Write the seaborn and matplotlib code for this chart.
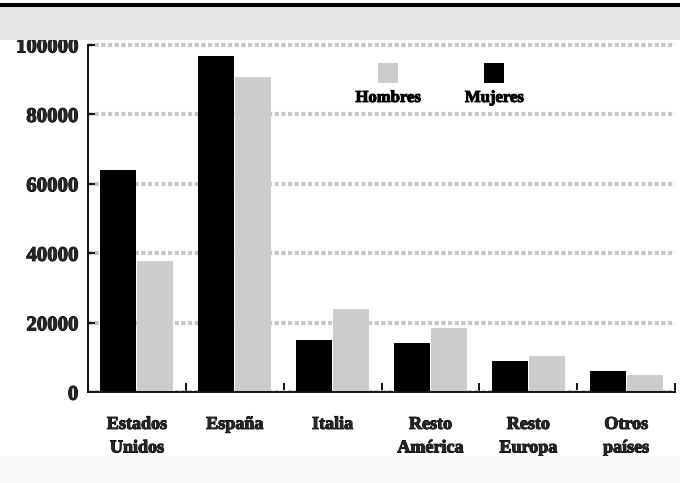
import matplotlib
matplotlib.use("Agg")
import matplotlib.pyplot as plt
import matplotlib.patheffects as pe
import seaborn as sns
import pandas as pd
from matplotlib.patches import Rectangle
from matplotlib.offsetbox import DrawingArea, TextArea, VPacker, HPacker, AnchoredOffsetbox

# ---- data ----
categories = ["Estados\nUnidos", "España", "Italia", "Resto\nAmérica", "Resto\nEuropa", "Otros\npaíses"]
mujeres = [64000, 96800, 15000, 14100, 9100, 6100]
hombres = [37900, 90700, 24100, 18500, 10500, 5100]
series_order = ["Mujeres", "Hombres"]
legend_order = ["Hombres", "Mujeres"]
yticks = [0, 20000, 40000, 60000, 80000, 100000]
colors = {"Mujeres": "#000000", "Hombres": "#cccccc"}

df = pd.DataFrame({
    "pais": categories * 2,
    "sexo": ["Mujeres"] * len(categories) + ["Hombres"] * len(categories),
    "valor": mujeres + hombres,
})

sns.set_theme(style="white")
plt.rcParams["font.family"] = ["Liberation Serif", "DejaVu Serif"]
plt.rcParams["font.weight"] = "bold"

thick = [pe.withStroke(linewidth=0.7, foreground="black")]

fig = plt.figure(figsize=(6.8, 4.83), dpi=100, facecolor="white")

# background decoration: top black rule and grey band, faint bottom strip
fig.patches.append(Rectangle((0, 1 - 6.5 / 483), 1, 3 / 483, transform=fig.transFigure,
                             facecolor="black", edgecolor="none", zorder=0))
fig.patches.append(Rectangle((0, 1 - 40 / 483), 1, 33 / 483, transform=fig.transFigure,
                             facecolor="#e6e6e6", edgecolor="none", zorder=0))
fig.patches.append(Rectangle((0, 0), 1, 27 / 483, transform=fig.transFigure,
                             facecolor="#f8f8f8", edgecolor="none", zorder=0))

ax = fig.add_axes([88 / 680, 1 - 392.3 / 483, 587 / 680, 347.3 / 483])
ax.set_facecolor("white")

sns.barplot(data=df, x="pais", y="valor", hue="sexo", hue_order=series_order,
            order=categories, palette=colors, width=0.757, gap=0.03,
            edgecolor="none", linewidth=0, saturation=1, legend=False, ax=ax, zorder=3)

ax.set_xlim(-0.5, len(categories) - 0.5)
ax.set_ylim(0, 100000)
ax.set_yticks(yticks)
ax.set_yticklabels([str(v) for v in yticks])
ax.set_xlabel("")
ax.set_ylabel("")

# grid: light textured band
ax.yaxis.grid(True, color="#c6c6c6", linewidth=3, linestyle=(0, (1.0, 0.6)), zorder=0)
ax.set_axisbelow(True)
ax.get_ygridlines()[-1].set_clip_on(False)

for s in ["top", "right"]:
    ax.spines[s].set_visible(False)
for s in ["left", "bottom"]:
    ax.spines[s].set_color("#111111")
    ax.spines[s].set_linewidth(1.4)
    ax.spines[s].set_zorder(4)

ax.tick_params(axis="y", direction="in", length=5, width=1.4, color="#111111",
               pad=7, labelsize=15, left=True)
for lab in ax.get_yticklabels():
    lab.set_fontweight("bold")
    lab.set_path_effects(thick)

# category labels at centres, tick marks at group boundaries
ax.set_xticks(range(len(categories)))
ax.set_xticklabels(categories, fontsize=13, fontweight="bold", linespacing=1.5)
for lab in ax.get_xticklabels():
    lab.set_path_effects(thick)
ax.tick_params(axis="x", which="major", length=0, pad=17)
ax.set_xticks([i - 0.5 for i in range(len(categories) + 1)], minor=True)
ax.tick_params(axis="x", which="minor", direction="in", length=6.5, width=1.4,
               color="#111111", bottom=True)

# legend: swatch above label
items = []
for name in legend_order:
    da = DrawingArea(14.4, 14.4, 0, 0)
    da.add_artist(Rectangle((0, 0), 14.4, 14.4, facecolor=colors[name], edgecolor="none"))
    ta = TextArea(name, textprops=dict(fontsize=12, fontweight="bold", color="black",
                                       path_effects=thick))
    items.append(VPacker(children=[da, ta], align="center", pad=0, sep=5))
box = HPacker(children=items, align="top", pad=0, sep=32)
anch = AnchoredOffsetbox(loc="upper left", child=box, pad=0, borderpad=0, frameon=False,
                         bbox_to_anchor=((355.5 - 88) / 587, (392.3 - 63) / 347.3),
                         bbox_transform=ax.transAxes)
ax.add_artist(anch)

fig.savefig("out.png", dpi=100, facecolor=fig.get_facecolor())
